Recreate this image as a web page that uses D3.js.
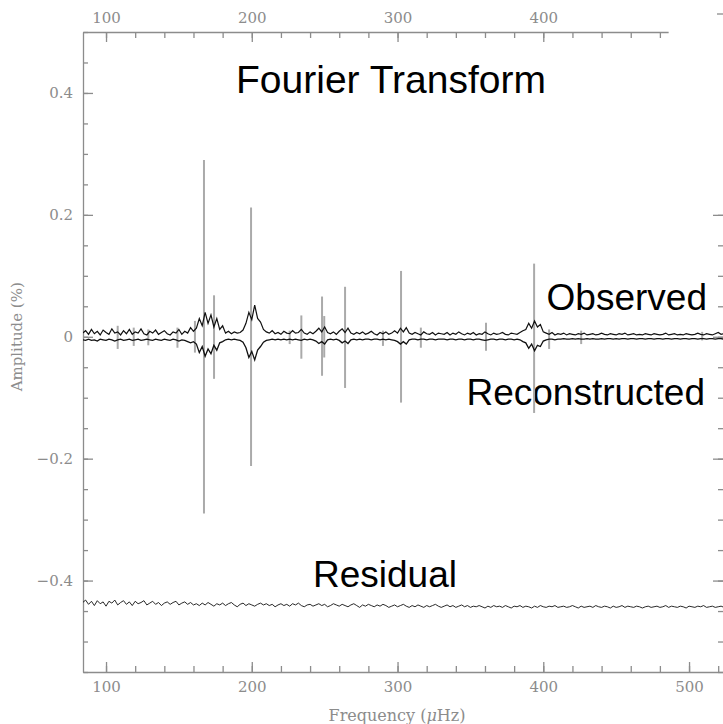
<!DOCTYPE html>
<html>
<head>
<meta charset="utf-8">
<script src="https://cdn.jsdelivr.net/npm/d3@7"></script>
<style>
  body { margin: 0; background: #fff; }
  .tick text { font-family: "DejaVu Serif", serif; font-size: 15px; fill: #8c8c8c; }
  .tick line, .domain { stroke: #8c8c8c; stroke-width: 1.3; }
</style>
</head>
<body>
<div id="chart"></div>
<script>
// spectrum sampled every 2 uHz starting at 84 uHz
const freqStart = 84, freqStep = 2;

// observed amplitude (%), noise floor plus window envelopes
const obsAmp = [
  0.006,0.010,0.004,0.012,0.005,0.009,0.003,0.011,0.007,0.004,
  0.013,0.006,0.008,0.003,0.010,0.005,0.012,0.004,0.008,0.006,
  0.013,0.005,0.003,0.009,0.006,0.011,0.004,0.007,0.010,0.005,
  0.003,0.008,0.006,0.012,0.004,0.009,0.006,0.015,0.009,
  0.014,0.030,0.018,0.040,0.022,0.036,0.016,0.030,0.012,0.018,
  0.006,0.009,0.005,0.008,0.006,0.007,0.011,
  0.022,0.040,0.028,0.052,0.030,0.024,
  0.012,0.008,0.006,0.010,0.005,0.007,0.004,0.009,0.006,0.005,0.010,0.006,
  0.007,0.012,0.006,0.004,0.008,0.005,0.009,0.014,0.008,0.016,
  0.007,0.005,0.008,0.004,0.009,0.013,0.007,0.014,0.006,0.004,
  0.007,0.005,0.008,0.004,0.006,0.009,0.005,0.003,0.007,0.005,
  0.008,0.004,0.006,0.010,0.006,0.014,0.008,0.015,0.006,0.004,
  0.007,0.005,0.003,0.008,0.005,0.004,0.007,0.003,0.006,0.005,
  0.004,0.007,0.003,0.006,0.004,0.008,0.005,0.003,0.006,0.004,
  0.007,0.003,0.005,0.004,0.008,0.005,0.003,0.006,0.004,0.005,
  0.007,0.004,0.003,0.006,0.005,0.004,0.007,0.010,
  0.012,0.022,0.014,0.026,0.016,0.020,0.008,
  0.006,0.004,0.007,0.003,0.005,0.004,0.006,0.003,0.005,0.004,
  0.003,0.005,0.004,0.006,0.003,0.004,0.005,0.003,0.004,0.006,
  0.004,0.003,0.005,0.004,0.003,0.005,0.004,0.006,0.003,0.004,
  0.005,0.003,0.004,0.003,0.005,0.004,0.003,0.005,0.004,0.003,
  0.004,0.006,0.003,0.004,0.005,0.003,0.004,0.003,0.005,0.004,
  0.003,0.004,0.006,0.004,0.003,0.005,0.004,0.003,0.005,0.007,
  0.004,0.005
];

// reconstructed amplitude, plotted mirrored (negative)
const recAmp = [
  -0.005,-0.006,-0.004,-0.006,-0.005,-0.007,-0.004,-0.005,-0.006,-0.004,
  -0.005,-0.007,-0.005,-0.004,-0.006,-0.005,-0.004,-0.006,-0.005,-0.004,
  -0.006,-0.005,-0.004,-0.005,-0.006,-0.004,-0.005,-0.006,-0.004,-0.005,
  -0.006,-0.004,-0.005,-0.007,-0.005,-0.006,-0.008,-0.010,-0.008,
  -0.012,-0.026,-0.016,-0.032,-0.020,-0.028,-0.014,-0.022,-0.010,-0.008,
  -0.005,-0.004,-0.005,-0.004,-0.005,-0.006,-0.009,
  -0.018,-0.034,-0.024,-0.038,-0.022,-0.016,
  -0.009,-0.006,-0.005,-0.004,-0.005,-0.004,-0.005,-0.004,-0.005,-0.004,-0.005,-0.004,
  -0.005,-0.006,-0.004,-0.005,-0.004,-0.005,-0.007,-0.011,-0.008,-0.012,
  -0.005,-0.004,-0.005,-0.004,-0.006,-0.010,-0.007,-0.011,-0.005,-0.004,
  -0.005,-0.004,-0.005,-0.004,-0.004,-0.005,-0.004,-0.004,-0.005,-0.004,
  -0.005,-0.004,-0.005,-0.006,-0.008,-0.012,-0.008,-0.012,-0.005,-0.004,
  -0.004,-0.005,-0.004,-0.004,-0.005,-0.004,-0.004,-0.005,-0.004,-0.004,
  -0.004,-0.005,-0.004,-0.004,-0.005,-0.004,-0.004,-0.005,-0.004,-0.004,
  -0.005,-0.004,-0.004,-0.005,-0.006,-0.005,-0.004,-0.004,-0.005,-0.004,
  -0.004,-0.005,-0.004,-0.004,-0.005,-0.004,-0.005,-0.008,
  -0.010,-0.019,-0.012,-0.023,-0.014,-0.016,-0.007,
  -0.005,-0.004,-0.004,-0.005,-0.004,-0.004,-0.003,-0.004,-0.004,-0.003,
  -0.004,-0.003,-0.004,-0.004,-0.003,-0.004,-0.003,-0.004,-0.004,-0.003,
  -0.004,-0.003,-0.003,-0.004,-0.003,-0.004,-0.003,-0.003,-0.004,-0.003,
  -0.003,-0.004,-0.003,-0.003,-0.004,-0.003,-0.003,-0.004,-0.003,-0.003,
  -0.004,-0.003,-0.003,-0.004,-0.003,-0.003,-0.004,-0.003,-0.003,-0.004,
  -0.003,-0.003,-0.004,-0.003,-0.003,-0.004,-0.003,-0.003,-0.004,-0.003,
  -0.003,-0.004
];

// residual (observed - reconstructed), shown offset to -0.44
const residAmp = [
  -0.436,-0.432,-0.439,-0.434,-0.441,-0.433,-0.438,-0.435,-0.442,-0.434,
  -0.437,-0.432,-0.440,-0.436,-0.433,-0.439,-0.435,-0.441,-0.434,-0.438,
  -0.436,-0.433,-0.440,-0.437,-0.434,-0.439,-0.436,-0.441,-0.437,-0.435,
  -0.439,-0.436,-0.434,-0.440,-0.437,-0.435,-0.439,-0.436,-0.440,
  -0.438,-0.441,-0.437,-0.440,-0.436,-0.439,-0.442,-0.438,-0.440,-0.437,
  -0.441,-0.438,-0.436,-0.440,-0.443,-0.439,-0.437,-0.441,-0.438,-0.440,
  -0.442,-0.439,-0.437,-0.440,-0.438,-0.441,-0.439,-0.443,-0.440,-0.438,
  -0.441,-0.439,-0.442,-0.438,-0.440,-0.437,-0.441,-0.443,-0.440,-0.439,
  -0.442,-0.440,-0.438,-0.441,-0.439,-0.443,-0.441,-0.438,-0.440,-0.442,
  -0.439,-0.441,-0.443,-0.440,-0.438,-0.441,-0.444,-0.440,-0.442,-0.439,
  -0.441,-0.443,-0.440,-0.442,-0.439,-0.441,-0.444,-0.442,-0.440,-0.443,
  -0.441,-0.439,-0.442,-0.444,-0.441,-0.443,-0.440,-0.442,-0.444,-0.441,
  -0.443,-0.441,-0.439,-0.442,-0.444,-0.442,-0.440,-0.443,-0.441,-0.444,
  -0.442,-0.440,-0.443,-0.441,-0.444,-0.442,-0.443,-0.441,-0.443,-0.445,
  -0.442,-0.444,-0.441,-0.443,-0.442,-0.444,-0.441,-0.443,-0.445,-0.442,
  -0.443,-0.441,-0.444,-0.442,-0.443,-0.445,-0.442,-0.444,-0.441,-0.443,
  -0.444,-0.442,-0.443,-0.441,-0.444,-0.443,-0.442,-0.444,-0.443,-0.441,
  -0.443,-0.445,-0.442,-0.444,-0.443,-0.442,-0.444,-0.441,-0.443,-0.444,
  -0.442,-0.443,-0.445,-0.442,-0.444,-0.443,-0.441,-0.444,-0.442,-0.443,
  -0.444,-0.442,-0.443,-0.445,-0.443,-0.442,-0.444,-0.443,-0.442,-0.444,
  -0.443,-0.441,-0.444,-0.442,-0.443,-0.444,-0.442,-0.443,-0.445,-0.442,
  -0.443,-0.444,-0.442,-0.443,-0.441,-0.444,-0.443,-0.442,-0.444,-0.443,
  -0.442,-0.444
];

// pulsation peaks: frequency (uHz), observed and reconstructed amplitude
const peakFreq = [108, 119, 129, 149, 161, 167.2, 174.1, 199.5, 226, 234, 248.2, 249.7, 264, 290, 302.4, 316, 360.7, 393.7, 404, 426, 509];
const peakObs  = [0.018, 0.015, 0.012, 0.015, 0.026, 0.290, 0.068, 0.212, 0.010, 0.035, 0.066, 0.034, 0.082, 0.010, 0.108, 0.015, 0.023, 0.120, 0.012, 0.010, 0.008];
const peakRec  = [-0.020, -0.015, -0.014, -0.018, -0.026, -0.290, -0.069, -0.212, -0.012, -0.036, -0.064, -0.034, -0.084, -0.015, -0.108, -0.018, -0.023, -0.125, -0.020, -0.012, -0.006];

const xMajor = [100, 200, 300, 400, 500];
const xTopMajor = [100, 200, 300, 400];
const yMajor = [-0.4, -0.2, 0, 0.2, 0.4];

const labels = [
  {text: "Fourier Transform", x: 391, y: 93, anchor: "middle", size: 39},
  {text: "Observed", x: 707, y: 310, anchor: "end", size: 37},
  {text: "Reconstructed", x: 705, y: 405, anchor: "end", size: 37},
  {text: "Residual", x: 385, y: 587, anchor: "middle", size: 37}
];

const W = 723, H = 724;
const plot = {left: 83, right: 723, top: 32, bottom: 672};

const svg = d3.select("#chart").append("svg")
  .attr("width", W).attr("height", H)
  .style("font-family", "'Liberation Sans', Arial, sans-serif");

const x = d3.scaleLinear().domain([84.2, 523.3]).range([plot.left, plot.right]);
const y = d3.scaleLinear().domain([-0.55, 0.5]).range([plot.bottom, plot.top]);

const xMinor = x.ticks(20);
const yMinor = y.ticks(20);
const fmtY = d => d === 0 ? "0" : d3.format(".1f")(d);

// bottom axis
const gb = svg.append("g").attr("transform", `translate(0,${plot.bottom})`);
gb.call(d3.axisBottom(x).tickValues(xMinor).tickSizeInner(-6).tickSizeOuter(0).tickFormat(""));
gb.append("g").call(d3.axisBottom(x).tickValues(xMajor).tickSizeInner(-10).tickSizeOuter(0).tickPadding(9))
  .call(g => g.select(".domain").remove());

// top axis (the right end of it is blank in the original)
svg.append("clipPath").attr("id", "topclip")
  .append("rect").attr("x", 0).attr("y", 0).attr("width", x(486)).attr("height", 60);
const gt = svg.append("g").attr("clip-path", "url(#topclip)")
  .append("g").attr("transform", `translate(0,${plot.top})`);
gt.call(d3.axisTop(x).tickValues(xMinor).tickSizeInner(-6).tickSizeOuter(0).tickFormat(""));
gt.append("g").call(d3.axisTop(x).tickValues(xTopMajor).tickSizeInner(-10).tickSizeOuter(0).tickPadding(9))
  .call(g => g.select(".domain").remove());
svg.append("line")
  .attr("x1", 717).attr("x2", 723).attr("y1", 14).attr("y2", 14)
  .attr("stroke", "#8c8c8c").attr("stroke-width", 1.3);

// left axis
const gl = svg.append("g").attr("transform", `translate(${plot.left},0)`);
gl.call(d3.axisLeft(y).tickValues(yMinor).tickSizeInner(-5).tickSizeOuter(0).tickFormat(""));
gl.append("g").call(d3.axisLeft(y).tickValues(yMajor).tickSizeInner(-10).tickSizeOuter(0).tickPadding(10).tickFormat(fmtY))
  .call(g => g.select(".domain").remove());

// right axis ticks only
const gr = svg.append("g").attr("transform", `translate(${plot.right},0)`);
gr.call(d3.axisRight(y).tickValues(yMinor.filter(v => v <= 0.2)).tickSizeInner(-5).tickSizeOuter(0).tickFormat(""))
  .call(g => g.select(".domain").remove());
gr.append("g").call(d3.axisRight(y).tickValues(yMajor.filter(v => v <= 0.2)).tickSizeInner(-10).tickSizeOuter(0).tickFormat(""))
  .call(g => g.select(".domain").remove());

// axis titles
svg.append("text")
  .attr("x", 397).attr("y", 721)
  .attr("text-anchor", "middle")
  .style("font-family", "'DejaVu Serif', serif").style("font-size", "16px").style("fill", "#8c8c8c")
  .text("Frequency (")
  .call(t => t.append("tspan").style("font-style", "italic").text("μ"))
  .call(t => t.append("tspan").text("Hz)"));

svg.append("text")
  .attr("transform", `translate(22,${y(0)}) rotate(-90)`)
  .attr("text-anchor", "middle")
  .style("font-family", "'DejaVu Serif', serif").style("font-size", "15px").style("fill", "#8c8c8c")
  .text("Amplitude (%)");

// big labels
svg.selectAll("text.lab").data(labels).enter().append("text")
  .attr("class", "lab")
  .attr("x", d => d.x).attr("y", d => d.y)
  .attr("text-anchor", d => d.anchor)
  .style("font-size", d => d.size + "px").style("fill", "#000")
  .text(d => d.text);

// data
svg.append("clipPath").attr("id", "plotclip")
  .append("rect").attr("x", plot.left).attr("y", plot.top)
  .attr("width", plot.right - plot.left).attr("height", plot.bottom - plot.top);
const data = svg.append("g").attr("clip-path", "url(#plotclip)");

const line = d3.line()
  .x((d, i) => x(freqStart + i * freqStep))
  .y(d => y(d));

const peaks = peakFreq.map((f, i) => ({f: f, top: peakObs[i], bot: peakRec[i]}));
data.selectAll("line.peak").data(peaks).enter().append("line")
  .attr("class", "peak")
  .attr("x1", d => x(d.f)).attr("x2", d => x(d.f))
  .attr("y1", d => y(d.top)).attr("y2", d => y(d.bot))
  .attr("stroke", "#aaa").attr("stroke-width", 2);

data.append("path").datum(recAmp).attr("d", line)
  .attr("fill", "none").attr("stroke", "#111").attr("stroke-width", 1.3);
data.append("path").datum(obsAmp).attr("d", line)
  .attr("fill", "none").attr("stroke", "#111").attr("stroke-width", 1.2);
data.append("path").datum(residAmp).attr("d", line)
  .attr("fill", "none").attr("stroke", "#111").attr("stroke-width", 0.9);
</script>
</body>
</html>
